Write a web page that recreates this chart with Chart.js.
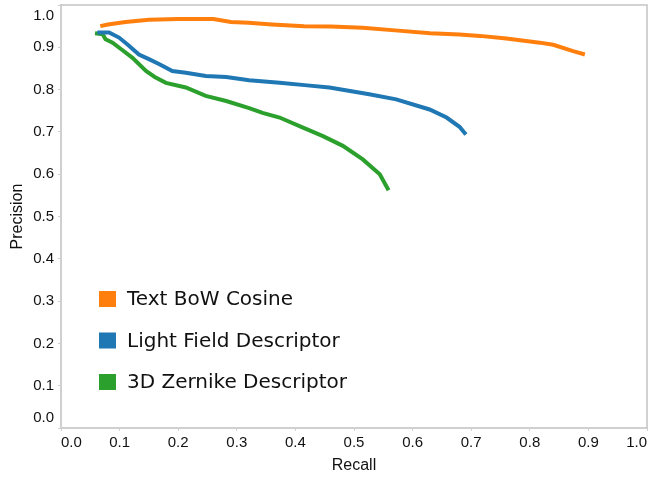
<!DOCTYPE html>
<html>
<head>
<meta charset="utf-8">
<script src="https://cdn.jsdelivr.net/npm/chart.js@4"></script>
<style>
  html, body { margin: 0; padding: 0; background: #fff; }
  #wrap { width: 665px; height: 477px; }
</style>
</head>
<body>
<div id="wrap"><canvas id="pr"></canvas></div>
<script>
const seriesNames = ['Text BoW Cosine', 'Light Field Descriptor', '3D Zernike Descriptor'];
const seriesColours = ['#ff7f0e', '#1f77b4', '#2ca02c'];

const textRecall = [0.067, 0.08, 0.11, 0.15, 0.2, 0.26, 0.29, 0.32, 0.36, 0.415, 0.46, 0.515, 0.57, 0.63, 0.68, 0.715, 0.76, 0.817, 0.84, 0.874, 0.894];
const textPrecision = [0.950, 0.954, 0.960, 0.965, 0.967, 0.967, 0.960, 0.958, 0.954, 0.950, 0.949, 0.946, 0.940, 0.933, 0.930, 0.927, 0.921, 0.911, 0.906, 0.891, 0.883];

const lfdRecall = [0.062, 0.082, 0.099, 0.115, 0.133, 0.15, 0.168, 0.19, 0.213, 0.247, 0.282, 0.321, 0.373, 0.42, 0.458, 0.526, 0.572, 0.629, 0.658, 0.68, 0.691];
const lfdPrecision = [0.935, 0.935, 0.923, 0.905, 0.883, 0.872, 0.860, 0.844, 0.840, 0.832, 0.830, 0.822, 0.816, 0.810, 0.805, 0.789, 0.777, 0.753, 0.734, 0.712, 0.694];

const zernRecall = [0.058, 0.071, 0.076, 0.088, 0.105, 0.122, 0.145, 0.16, 0.179, 0.213, 0.247, 0.282, 0.321, 0.344, 0.373, 0.413, 0.447, 0.481, 0.515, 0.544, 0.559];
const zernPrecision = [0.933, 0.931, 0.919, 0.911, 0.893, 0.875, 0.844, 0.830, 0.816, 0.805, 0.785, 0.773, 0.756, 0.745, 0.734, 0.710, 0.690, 0.667, 0.635, 0.600, 0.562];

const axisTicks = [0, 0.1, 0.2, 0.3, 0.4, 0.5, 0.6, 0.7, 0.8, 0.9, 1.0];

function toPoints(xs, ys) {
  return xs.map((x, i) => ({ x: x, y: ys[i] }));
}

const axisGrey = '#d0d0d0';
const tickFont = { family: 'Liberation Sans, Arial, sans-serif', size: 15 };
const titleFont = { family: 'Liberation Sans, Arial, sans-serif', size: 16 };

// legend sits inside the plot, lower left
const innerLegend = {
  id: 'innerLegend',
  afterDraw(chart) {
    const ctx = chart.ctx;
    const area = chart.chartArea;
    const x0 = area.left + 38;
    let y = area.top + 294;
    ctx.save();
    ctx.font = '20px "DejaVu Sans", sans-serif';
    ctx.textBaseline = 'middle';
    ctx.textAlign = 'left';
    chart.data.datasets.forEach(ds => {
      ctx.fillStyle = ds.borderColor;
      ctx.fillRect(x0, y - 8, 17, 16);
      ctx.fillStyle = '#111';
      ctx.fillText(ds.label, x0 + 28, y + 1);
      y += 41.5;
    });
    ctx.restore();
  }
};

// thin frame on top and right of the plot
const frame = {
  id: 'frame',
  beforeDatasetsDraw(chart) {
    const ctx = chart.ctx;
    const a = chart.chartArea;
    ctx.save();
    ctx.strokeStyle = '#c4c4c4';
    ctx.lineWidth = 1.5;
    ctx.beginPath();
    ctx.moveTo(a.left, a.top);
    ctx.lineTo(a.right, a.top);
    ctx.lineTo(a.right, a.bottom);
    ctx.stroke();
    ctx.restore();
  }
};

const ctx = document.getElementById('pr');
new Chart(ctx, {
  type: 'line',
  data: {
    datasets: [
      { label: seriesNames[0], data: toPoints(textRecall, textPrecision), borderColor: seriesColours[0], backgroundColor: seriesColours[0] },
      { label: seriesNames[1], data: toPoints(lfdRecall, lfdPrecision), borderColor: seriesColours[1], backgroundColor: seriesColours[1] },
      { label: seriesNames[2], data: toPoints(zernRecall, zernPrecision), borderColor: seriesColours[2], backgroundColor: seriesColours[2] },
    ],
  },
  options: {
    responsive: true,
    maintainAspectRatio: false,
    animation: false,
    layout: { padding: { top: 5, right: 18, left: 0, bottom: 0 } },
    elements: {
      point: { radius: 0 },
      line: { borderWidth: 4, tension: 0 },
    },
    plugins: {
      legend: { display: false },
      tooltip: { enabled: false },
    },
    scales: {
      x: {
        type: 'linear',
        min: 0,
        max: 1,
        afterBuildTicks: scale => { scale.ticks = axisTicks.map(v => ({ value: v })); },
        afterFit: scale => {
          scale.height = 49;
          scale.paddingLeft = 0;
          scale.paddingRight = 0;
        },
        grid: { drawOnChartArea: false, drawTicks: true, tickLength: 3, color: axisGrey },
        border: { display: true, color: axisGrey, width: 2 },
        ticks: {
          align: 'inner',
          maxRotation: 0,
          autoSkip: false,
          padding: 3,
          color: '#111',
          font: tickFont,
          callback: v => Number(v).toFixed(1),
        },
        title: { display: true, text: 'Recall', color: '#111', font: titleFont, padding: { top: 0, bottom: 2 } },
      },
      y: {
        type: 'linear',
        min: 0,
        max: 1,
        afterBuildTicks: scale => { scale.ticks = axisTicks.map(v => ({ value: v })); },
        afterFit: scale => {
          scale.width = 61;
          scale.paddingTop = 0;
          scale.paddingBottom = 0;
        },
        grid: { drawOnChartArea: false, drawTicks: true, tickLength: 3, color: axisGrey },
        border: { display: true, color: axisGrey, width: 2 },
        ticks: {
          autoSkip: false,
          padding: 4,
          color: '#111',
          font: { family: tickFont.family, size: 15, lineHeight: 1.4 },
          callback: (v, i, ticks) => {
            const s = Number(v).toFixed(1);
            if (i === 0) return [s, ''];
            if (i === ticks.length - 1) return ['', s];
            return s;
          },
        },
        title: { display: true, text: 'Precision', color: '#111', font: titleFont, padding: { top: 8, bottom: 0 } },
      },
    },
  },
  plugins: [frame, innerLegend],
});
</script>
</body>
</html>
